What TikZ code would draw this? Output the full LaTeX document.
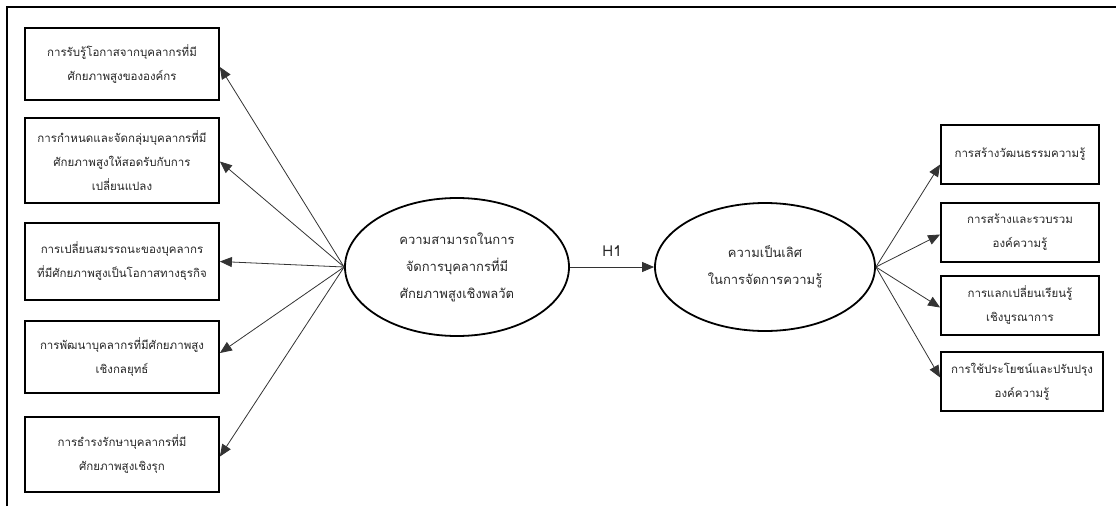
\documentclass[tikz,border=0pt]{standalone}
\usepackage{fontspec}
\newfontfamily\thaifont[Script=Thai]{Loma}
\usetikzlibrary{arrows.meta,shapes.geometric}
\begin{document}
\begin{tikzpicture}[x=1pt,y=-1pt,
  every node/.style={font=\thaifont\fontsize{11.5}{24}\selectfont, text=black!85, align=center},
  itembox/.style={draw=black, line width=1.8pt, rectangle, inner sep=2pt},
  leftbox/.style={itembox, minimum width=194pt},
  rightbox/.style={itembox, minimum width=158pt, minimum height=59pt},
  construct/.style={draw=black, line width=1.8pt, ellipse, inner sep=0pt,
    font=\thaifont\fontsize{13}{27}\selectfont},
  link/.style={draw=black!80, line width=0.8pt, -{Triangle[length=12pt,width=10pt]}}
]
\useasboundingbox (0,0) rectangle (1116,506);

% frame edges
\draw[line width=2.6pt] (7,506) -- (7,7) -- (1116,7);

% indicators of the first construct
\node[leftbox, minimum height=72pt] (b1) at (122,64)
  {การรับรู้โอกาสจากบุคลากรที่มี\\ศักยภาพสูงขององค์กร};
\node[leftbox, minimum height=85pt] (b2) at (122,160.5)
  {การกำหนดและจัดกลุ่มบุคลากรที่มี\\ศักยภาพสูงให้สอดรับกับการ\\เปลี่ยนแปลง};
\node[leftbox, minimum height=77pt] (b3) at (122,261.5)
  {การเปลี่ยนสมรรถนะของบุคลากร\\ที่มีศักยภาพสูงเป็นโอกาสทางธุรกิจ};
\node[leftbox, minimum height=72pt] (b4) at (122,357)
  {การพัฒนาบุคลากรที่มีศักยภาพสูง\\เชิงกลยุทธ์};
\node[leftbox, minimum height=75pt] (b5) at (122,454.5)
  {การธำรงรักษาบุคลากรที่มี\\ศักยภาพสูงเชิงรุก};

% the two constructs
\node[construct, minimum width=224pt, minimum height=138pt] (e1) at (457,267)
  {ความสามารถในการ\\จัดการบุคลากรที่มี\\ศักยภาพสูงเชิงพลวัต};
\node[construct, minimum width=220pt, minimum height=128pt] (e2) at (765,267)
  {ความเป็นเลิศ\\ในการจัดการความรู้};

% indicators of the second construct
\node[rightbox] (r1) at (1020,154.5) {การสร้างวัฒนธรรมความรู้};
\node[rightbox] (r2) at (1020,232.5) {การสร้างและรวบรวม\\องค์ความรู้};
\node[rightbox] (r3) at (1020,305.5) {การแลกเปลี่ยนเรียนรู้\\เชิงบูรณาการ};
\node[rightbox, minimum width=162pt] (r4) at (1022,381.5) {การใช้ประโยชน์และปรับปรุง\\องค์ความรู้};

% paths
\draw[link] (e1.west) -- ([yshift=-3pt]b1.east);
\draw[link] (e1.west) -- ([yshift=-1pt]b2.east);
\draw[link] (e1.west) -- (b3.east);
\draw[link] (e1.west) -- ([yshift=4pt]b4.east);
\draw[link] (e1.west) -- ([yshift=-2pt]b5.east);

\draw[link] (e1.east) -- node[above=7pt, font=\thaifont\fontsize{15}{17}\selectfont] {H1} (e2.west);

\draw[link] (e2.east) -- ([yshift=-10pt]r1.west);
\draw[link] (e2.east) -- ([yshift=-2pt]r2.west);
\draw[link] (e2.east) -- ([yshift=-2pt]r3.west);
\draw[link] (e2.east) -- ([yshift=4pt]r4.west);
\end{tikzpicture}
\end{document}
